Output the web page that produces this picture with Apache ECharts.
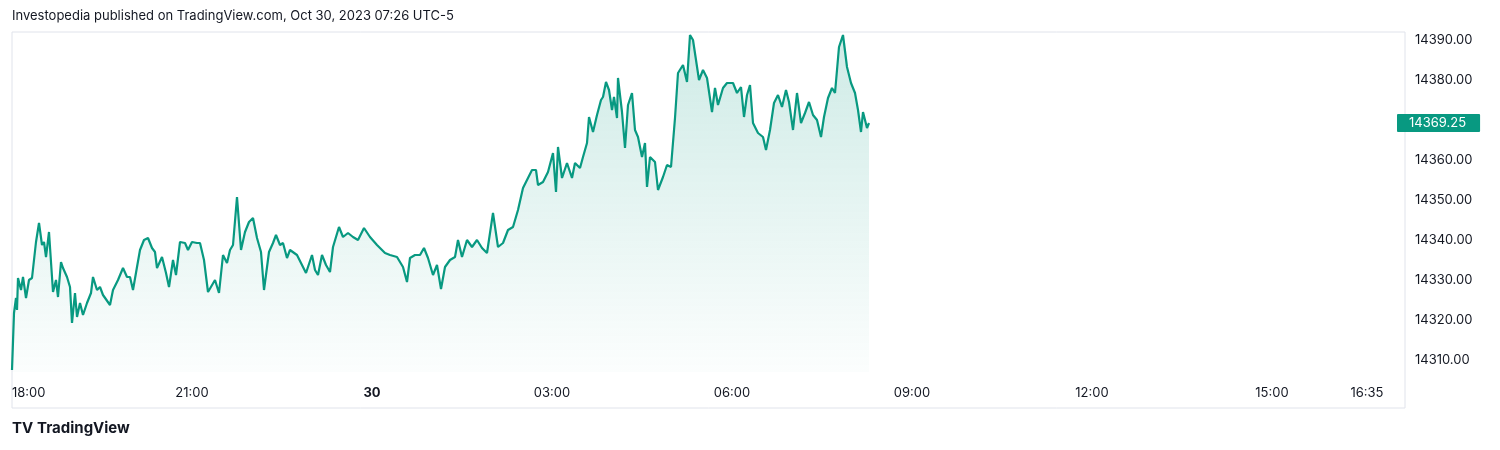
<!DOCTYPE html>
<html><head><meta charset="utf-8">
<script src="https://cdn.jsdelivr.net/npm/echarts@6/dist/echarts.min.js"></script>
<style>html,body{margin:0;padding:0;background:#fff}#c{width:1500px;height:450px}</style>
</head><body><div id="c"></div>
<script>
// minutes since Oct 29 18:00
const minutes = [0,2,4,5,6,9,11,14,17,20,24,27,30,32,34,37,41,44,46,49,51,55,58,60,63,65,68,71,75,79,81,85,88,91,98,101,106,111,115,118,121,125,128,132,136,140,143,145,150,154,157,161,164,168,173,176,180,185,188,192,196,203,207,211,215,218,221,225,229,233,237,241,245,249,252,257,261,264,268,271,275,278,285,290,294,300,303,306,310,314,318,321,327,331,336,341,346,352,358,365,373,378,385,391,395,398,403,408,412,416,421,425,429,433,438,443,446,450,455,460,465,470,475,481,486,491,496,501,506,511,515,520,524,526,531,536,541,544,546,550,555,560,563,568,571,575,577,581,585,589,591,594,597,600,602,605,606,610,613,616,620,623,626,630,633,635,638,643,646,651,655,659,663,666,671,675,678,681,684,687,691,695,700,703,706,711,715,721,725,729,732,735,738,741,746,751,754,758,762,766,770,774,777,781,785,789,793,797,801,805,809,812,816,820,823,827,831,835,839,843,846,849,851,855,857];
const prices = [14307.5,14321.75,14325.5,14322.5,14330.5,14327.5,14330.75,14325.5,14330,14330.5,14339.5,14344.25,14338.75,14339.5,14335.75,14342,14327,14330,14325.75,14334.5,14333,14330.75,14328.25,14319.25,14326.75,14320.75,14324.25,14321.25,14324.25,14326.75,14330.75,14327.5,14328.25,14326.25,14323.75,14327.5,14330,14333,14330.75,14330.75,14327.5,14333.25,14337.5,14340,14340.5,14338,14337,14333,14335.75,14331.75,14328.25,14335,14331.25,14339.5,14339.25,14337.5,14339.5,14339.25,14339.25,14335,14327,14330,14326.75,14336.25,14334.25,14337.5,14338.75,14350.75,14337.5,14342,14344.5,14345.5,14340.5,14337,14327.5,14337,14339.25,14341.25,14338.75,14339.25,14335.5,14337.5,14336.25,14333.75,14331.75,14336.25,14332.5,14331.25,14336.25,14333.75,14332,14338.25,14343.25,14340.75,14341.75,14340.75,14340,14343,14340.75,14338.75,14336.75,14336.25,14335.75,14333.25,14329.5,14335.5,14336.25,14336.25,14338,14335.5,14331.25,14333.75,14327.75,14333.25,14335,14335.75,14340,14335.75,14340,14338.25,14340,14338,14336.75,14346.75,14338.25,14339.25,14342.5,14343.25,14347.5,14353,14355,14357.5,14357.5,14353.75,14354.5,14357,14361.75,14352,14363.25,14355.5,14359.25,14355.5,14359.25,14358,14360.75,14364.25,14370.75,14367,14371.25,14375,14375.75,14379.5,14377.5,14372.5,14375.75,14370.5,14380.5,14372,14363,14373.75,14376.75,14367.5,14365.75,14360.75,14364.25,14353.25,14360.75,14359.5,14352.5,14355.75,14358.75,14358.25,14370.5,14381.75,14383.75,14379.5,14391.25,14390,14385,14380,14382.5,14380.5,14372,14378,14373.75,14378,14379.25,14379.25,14376.75,14378.25,14370.75,14376.25,14378.75,14369.25,14366.75,14365.75,14362.5,14367.5,14374.25,14376.25,14373.25,14377.5,14374.5,14367.5,14376.75,14369.25,14371.75,14374.5,14371.25,14370,14365.75,14370.75,14375.5,14378,14376.75,14388.25,14391.25,14383.25,14379.25,14376.75,14372.5,14367,14372,14368,14369.25];
const xTicks = [0,180,360,540,720,900,1080,1260,1355];
const xTickLabels = ['18:00','21:00','30','03:00','06:00','09:00','12:00','15:00','16:35'];
const yTicks = [14310,14320,14330,14340,14350,14360,14370,14380,14390];
const lastPrice = 14369.25;

const data = minutes.map((m,i)=>[m,prices[i]]);
const chart = echarts.init(document.getElementById('c'));
const F = 'Inter, "Noto Sans", sans-serif';
chart.setOption({
  animation:false,
  grid:{left:12,right:95,top:32,bottom:78,containLabel:false,outerBoundsMode:'none'},
  xAxis:{type:'value',min:0,max:1393,
    axisLine:{show:false},axisTick:{show:false},splitLine:{show:false},
    axisLabel:{customValues:xTicks,margin:15,color:'#131722',fontSize:13,fontFamily:F,alignMinLabel:'left',
      formatter:v=>{const i=xTicks.indexOf(v);const t=xTickLabels[i]||'';return t==='30'?'{b|30}':t;},
      rich:{b:{fontWeight:'bold',fontSize:13,color:'#131722',fontFamily:F}}}},
  yAxis:{type:'value',min:14307,max:14392,position:'right',
    axisLine:{show:false},axisTick:{show:false},splitLine:{show:false},
    axisLabel:{customValues:yTicks,margin:10,color:'#131722',fontSize:13,fontFamily:F,formatter:v=>v.toFixed(2)},
    axisPointer:{show:true,status:'show',value:lastPrice,triggerTooltip:false,lineStyle:{opacity:0},
      label:{show:true,formatter:p=>Number(p.value).toFixed(2),backgroundColor:'#089981',color:'#fff',fontSize:13,fontFamily:F,padding:[3,14,2,12],borderRadius:1,margin:-8}}},
  graphic:[
    {type:'rect',shape:{x:12,y:32,width:1393,height:376},style:{fill:'none',stroke:'#e0e3eb',lineWidth:1},silent:true},
    {type:'text',left:12,top:10,style:{text:'Investopedia published on TradingView.com, Oct 30, 2023 07:26 UTC-5',fill:'#131722',fontSize:13,fontFamily:F}},
    {type:'text',left:12,top:421,style:{text:'TV',fill:'#131722',fontSize:15,fontWeight:'bold',fontFamily:F}},
    {type:'text',left:37,top:421,style:{text:'TradingView',fill:'#131722',fontSize:15,fontWeight:'bold',fontFamily:F}}
  ],
  series:[{type:'line',data:data,showSymbol:false,
    lineStyle:{color:'#089981',width:2.2},
    areaStyle:{color:new echarts.graphic.LinearGradient(0,0,0,1,[{offset:0,color:'rgba(8,153,129,0.28)'},{offset:1,color:'rgba(8,153,129,0.02)'}])}}]
});
</script></body></html>
